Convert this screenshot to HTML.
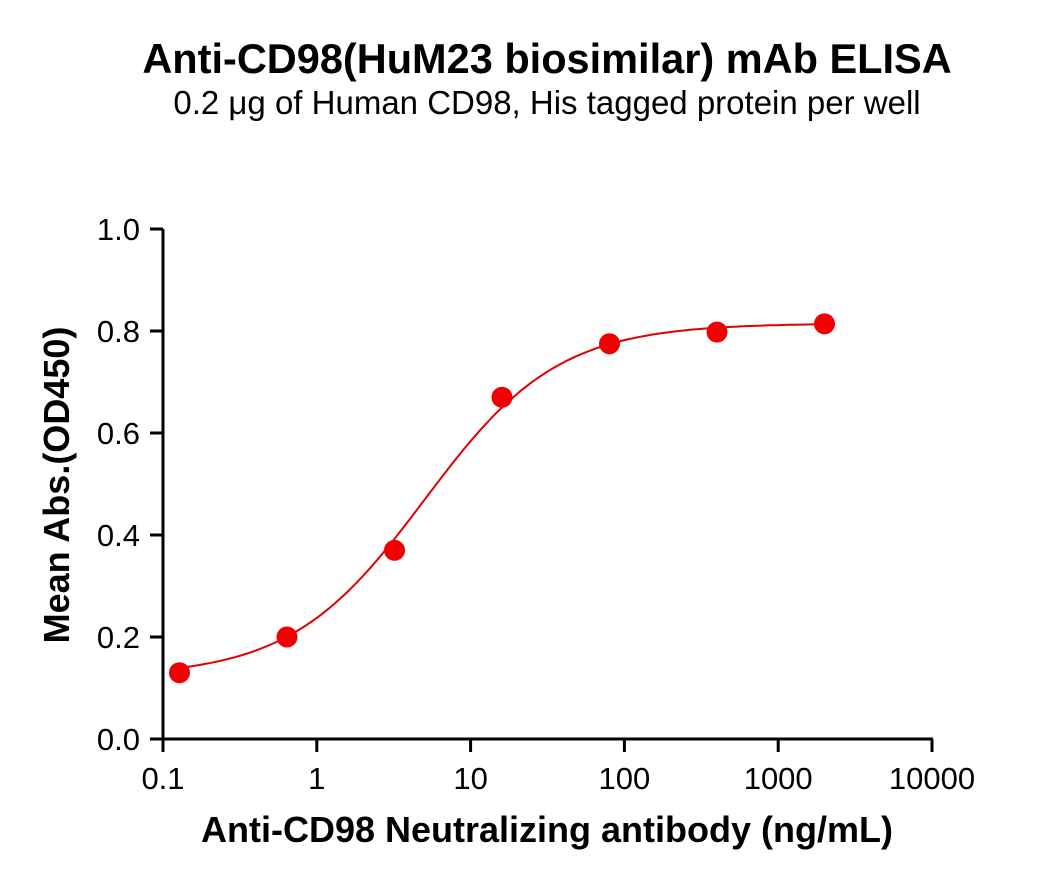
<!DOCTYPE html>
<html><head><meta charset="utf-8"><style>
body{margin:0;background:#fff;}
svg text{font-family:"Liberation Sans",Arial,sans-serif;fill:#000;}
</style></head><body>
<svg width="1039" height="886">
<text x="547" y="73" text-anchor="middle" font-size="41.5" font-weight="bold">Anti-CD98(HuM23 biosimilar) mAb ELISA</text>
<text x="547" y="114" text-anchor="middle" font-size="33">0.2 μg of Human CD98, His tagged protein per well</text>
<g id="axes"></g>
<text transform="translate(69,485) rotate(-90)" text-anchor="middle" font-size="36" font-weight="bold">Mean Abs.(OD450)</text>
<text x="547" y="842" text-anchor="middle" font-size="36" font-weight="bold">Anti-CD98 Neutralizing antibody (ng/mL)</text>
<g id="plot"></g>
</svg>
<script>
const xTicks=[0.1,1,10,100,1000,10000];
const xTickLabels=["0.1","1","10","100","1000","10000"];
const yTicks=[0,0.2,0.4,0.6,0.8,1.0];
const yTickLabels=["0.0","0.2","0.4","0.6","0.8","1.0"];
const conc=[0.128,0.64,3.2,16,80,400,2000];
const od=[0.130,0.200,0.370,0.670,0.775,0.798,0.814];
const fitBottom=[0.122];
const fitTop=[0.815];
const fitEC50=[5];
const fitHill=[1.0];
const NS="http://www.w3.org/2000/svg";
const X=v=>163+(Math.log10(v)+1)*153.8;
const Y=v=>739-v*510;
function mk(t,a,p){const e=document.createElementNS(NS,t);for(const k in a)e.setAttribute(k,a[k]);p.appendChild(e);return e;}
const ax=document.getElementById('axes');
const xl=mk('line',{x1:163,y1:739,x2:933,y2:739,stroke:'#000','stroke-width':3},ax);

const yl=mk('line',{x1:163,y1:229,x2:163,y2:740.5,stroke:'#000','stroke-width':3},ax);

xTicks.forEach((v,i)=>{
 const t=mk('line',{x1:X(v),y1:739,x2:X(v),y2:752,stroke:'#000','stroke-width':3},ax);
 
 const l=mk('text',{x:X(v),y:789,'text-anchor':'middle','font-size':31},ax);l.textContent=xTickLabels[i];
 
});
yTicks.forEach((v,i)=>{
 const t=mk('line',{x1:150,y1:Y(v),x2:163,y2:Y(v),stroke:'#000','stroke-width':3},ax);
 
 const l=mk('text',{x:140,y:Y(v)+11,'text-anchor':'end','font-size':31},ax);l.textContent=yTickLabels[i];
 
});
const pl=document.getElementById('plot');
const f=x=>fitBottom[0]+(fitTop[0]-fitBottom[0])/(1+Math.pow(fitEC50[0]/x,fitHill[0]));
let d='';const a=Math.log10(conc[0]),b=Math.log10(conc[conc.length-1]);
for(let i=0;i<=200;i++){const lx=a+(b-a)*i/200,x=Math.pow(10,lx);d+=(i?'L':'M')+X(x).toFixed(1)+','+Y(f(x)).toFixed(1);}
const c=mk('path',{d:d,fill:'none',stroke:'#e00000','stroke-width':2},pl);

conc.forEach((v,i)=>{
 const p=mk('circle',{cx:X(v),cy:Y(od[i]),r:10.5,fill:'#f00000'},pl);
 
});
</script>
</body></html>
